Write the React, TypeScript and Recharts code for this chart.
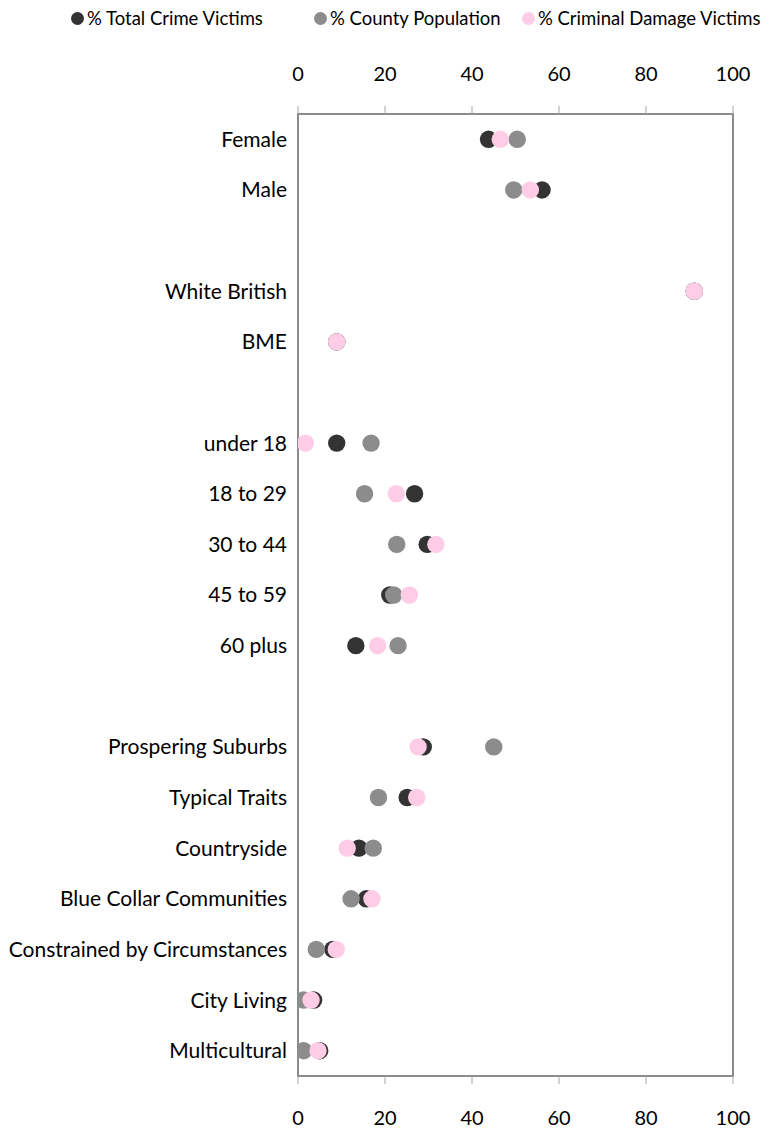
import React from "react";
import { ScatterChart, Scatter, XAxis, YAxis, ReferenceArea, Legend } from "recharts";

const categories = [
  "Female", "Male", "",
  "White British", "BME", "",
  "under 18", "18 to 29", "30 to 44", "45 to 59", "60 plus", "",
  "Prospering Suburbs", "Typical Traits", "Countryside", "Blue Collar Communities",
  "Constrained by Circumstances", "City Living", "Multicultural",
];

const totalCrimeVictims = [
  43.8, 56.1, null,
  91.1, 8.9, null,
  8.9, 26.8, 29.7, 21.1, 13.3, null,
  28.8, 25.1, 14.0, 15.7, 8.0, 3.6, 5.0,
];

const countyPopulation = [
  50.4, 49.6, null,
  91.1, 8.9, null,
  16.8, 15.3, 22.7, 22.0, 23.0, null,
  45.0, 18.5, 17.3, 12.2, 4.2, 1.3, 1.3,
];

const criminalDamageVictims = [
  46.5, 53.4, null,
  91.1, 8.9, null,
  1.7, 22.6, 31.7, 25.6, 18.3, null,
  27.6, 27.3, 11.3, 17.0, 8.8, 3.0, 4.6,
];

const xTicks = [0, 20, 40, 60, 80, 100];
const rowTicks = categories.map((_, i) => i);

const seriesNames = ["% Total Crime Victims", "% County Population", "% Criminal Damage Victims"];
const seriesColors = ["#333333", "#8c8c8c", "#ffcce6"];

const toPoints = (vals: (number | null)[]) =>
  vals
    .map((v, i) => (v === null ? null : { x: v, y: i }))
    .filter((p) => p !== null) as { x: number; y: number }[];

const FONT = "'Gill Sans', 'Gill Sans MT', Lato, sans-serif";

const legendLefts = [63, 306, 514];

const LegendContent = () => (
  <div style={{ position: "relative", width: 760, height: 26, fontFamily: FONT, fontSize: 18.5, lineHeight: "22px", color: "#000", overflow: "visible" }}>
    {seriesNames.map((name, i) => (
      <div
        key={name}
        style={{ position: "absolute", left: legendLefts[i], top: -1, display: "flex", alignItems: "center", whiteSpace: "nowrap" }}
      >
        <span
          style={{ display: "inline-block", width: 13, height: 13, borderRadius: "50%", background: seriesColors[i], marginRight: 3 }}
        />
        <span>{name}</span>
      </div>
    ))}
  </div>
);

const makeDot = (color: string) => (props: any) => (
  <circle cx={props.cx} cy={props.cy} r={8.7} fill={color} />
);

export default function App() {
  const data = [totalCrimeVictims, countyPopulation, criminalDamageVictims].map(toPoints);
  return (
    <div style={{ width: 760, height: 1128 }}>
      <ScatterChart width={760} height={1128} margin={{ top: 0, right: 35, bottom: 0, left: 0 }}>
        <Legend
          verticalAlign="top"
          align="left"
          content={<LegendContent />}
          height={26}
          wrapperStyle={{ overflow: "visible", width: 760 }}
        />
        <XAxis
          xAxisId="top"
          orientation="top"
          type="number"
          dataKey="x"
          domain={[0, 100]}
          ticks={xTicks}
          height={80}
          axisLine={false}
          tickSize={8}
          tickMargin={25}
          tickLine={{ stroke: "#a6a6a6" }}
          tick={{ fill: "#000", fontSize: 20, fontFamily: FONT }}
          allowDataOverflow
        />
        <XAxis
          xAxisId="bottom"
          orientation="bottom"
          type="number"
          dataKey="x"
          domain={[0, 100]}
          ticks={xTicks}
          height={60}
          axisLine={false}
          tickSize={8}
          tickMargin={27}
          tickLine={{ stroke: "#a6a6a6" }}
          tick={{ fill: "#000", fontSize: 20, fontFamily: FONT }}
          allowDataOverflow
        />
        <YAxis
          type="number"
          dataKey="y"
          domain={[-0.5, 18.5]}
          reversed
          ticks={rowTicks}
          interval={0}
          tickFormatter={(i: number) => categories[i] ?? ""}
          width={290}
          axisLine={false}
          tickLine={false}
          tickSize={0}
          tickMargin={11}
          tick={{ fill: "#000", fontSize: 21, fontFamily: FONT }}
          allowDataOverflow
        />
        <ReferenceArea
          xAxisId="bottom"
          x1={0}
          x2={100}
          y1={-0.5}
          y2={18.5}
          fill="none"
          stroke="#8c8c8c"
          strokeWidth={2}
          ifOverflow="visible"
        />
        <Scatter xAxisId="top" data={data[0]} fill="none" shape={() => <g />} isAnimationActive={false} legendType="none" />
        {data.map((pts, i) => (
          <Scatter
            key={seriesNames[i]}
            name={seriesNames[i]}
            xAxisId="bottom"
            data={pts}
            fill={seriesColors[i]}
            shape={makeDot(seriesColors[i])}
            isAnimationActive={false}
          />
        ))}
      </ScatterChart>
    </div>
  );
}
